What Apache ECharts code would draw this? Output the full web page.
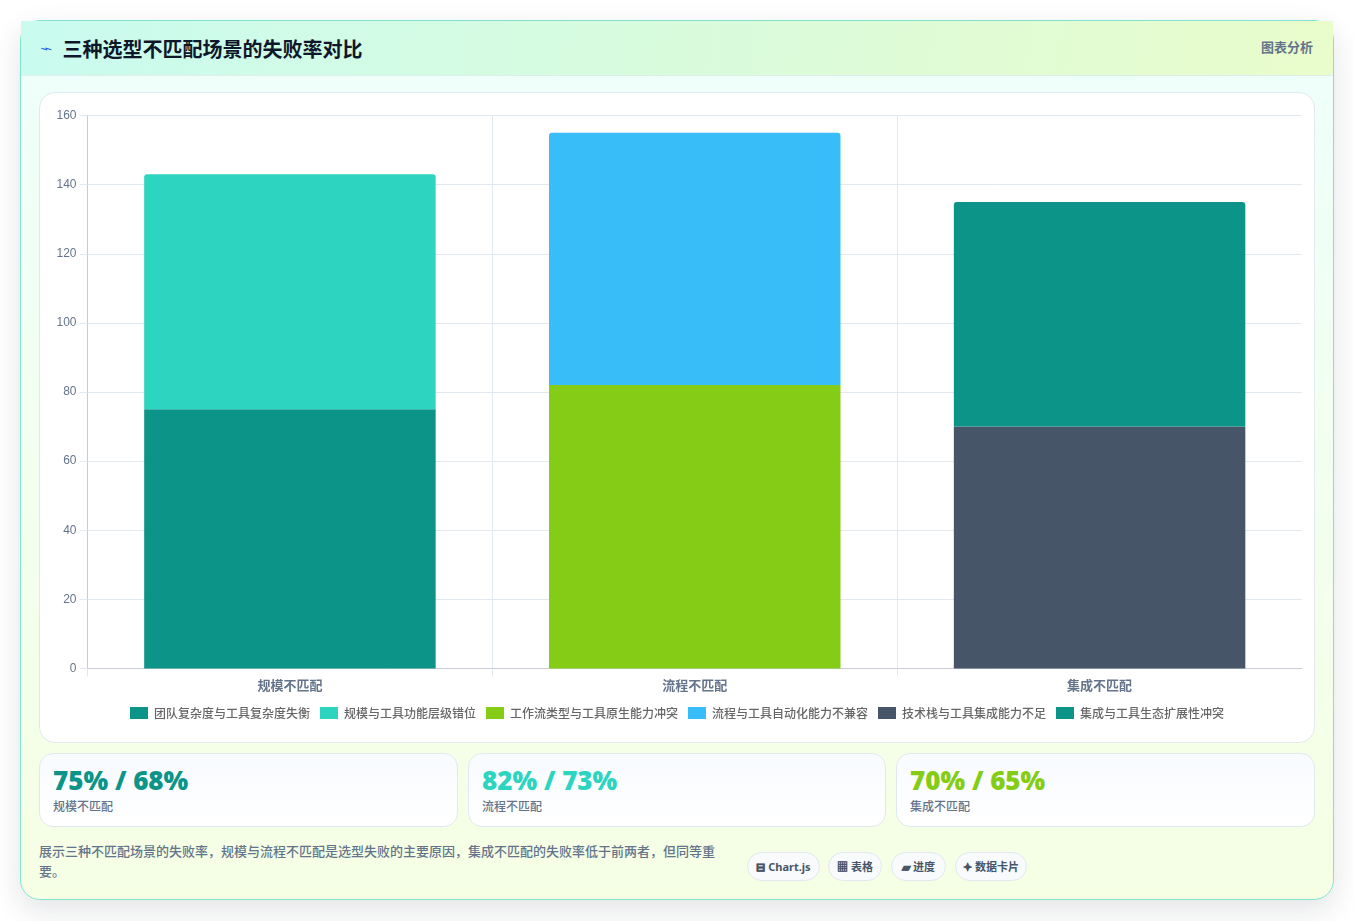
<!DOCTYPE html>
<html lang="zh"><head><meta charset="utf-8">
<script src="https://cdn.jsdelivr.net/npm/echarts@6/dist/echarts.min.js"></script>
<style>
*{box-sizing:border-box}
html,body{margin:0;width:1354px;height:921px;overflow:hidden;background:#fff;font-family:"Noto Sans","Noto Sans CJK SC",sans-serif}
#card{position:absolute;left:20px;top:20px;width:1314px;height:880px;border:1px solid #7fe3d0;border-radius:20px;background:linear-gradient(180deg,#eefffb 0%,#f6ffe4 100%);box-shadow:0 10px 30px rgba(15,23,42,.12);}
#head{position:absolute;left:0;top:0;width:1312px;height:55px;background:linear-gradient(100deg,#c9fbef 0%,#e9fccb 100%);border-bottom:1px solid #dcefe9;}
#icon{position:absolute;left:20px;top:19px;font-size:18px;color:#2563eb;line-height:16px;transform:scale(1.15,.55)}
#title{position:absolute;left:41.5px;top:14px;font-size:20px;line-height:28px;font-weight:700;color:#0f172a;font-family:"Noto Sans CJK SC",sans-serif}
#tag{position:absolute;right:20px;top:17px;font-size:13px;line-height:18px;font-weight:600;color:#64748b;font-family:"Noto Sans CJK SC",sans-serif}
#box{position:absolute;left:18px;top:71px;width:1276px;height:651px;background:#fff;border:1px solid #e2e8f0;border-radius:16px}
#chart{position:absolute;left:0;top:0;width:1274px;height:649px}
.kpi{position:absolute;top:732px;height:74px;border:1px solid #e2e8f0;border-radius:14px;background:linear-gradient(180deg,#f8fbff,#fff)}
.kv{position:absolute;left:13px;top:9px;font:900 26px/34px "Noto Sans","Noto Sans CJK SC",sans-serif;white-space:nowrap}
.kl{position:absolute;left:13px;top:43px;font:500 12px/17px "Noto Sans CJK SC",sans-serif;color:#64748b;white-space:nowrap}
#note{position:absolute;left:18px;top:820px;width:690px;font:500 13px/20px "Noto Sans CJK SC",sans-serif;color:#64748b}
.pill{position:absolute;top:831px;height:29px;text-align:center;border:1px solid #e2e8f0;border-radius:15px;background:#f8fafc;font:700 11px/27px "Noto Sans","Noto Sans CJK SC",sans-serif;color:#475569;white-space:nowrap}
.pill i{font-style:normal;-webkit-text-stroke:.5px #475569}
</style></head><body>
<div id="card">
<div id="head"><div id="icon">⌁</div><div id="title"></div><div id="tag"></div></div>
<div id="box"><div id="chart"></div></div>
<div id="kpis"></div>
<div id="note"></div>
<div id="pills"></div>
</div>
<script>
const pageTitle = "三种选型不匹配场景的失败率对比";
const tagText = "图表分析";
const noteText = "展示三种不匹配场景的失败率，规模与流程不匹配是选型失败的主要原因，集成不匹配的失败率低于前两者，但同等重要。";
const categories = ["规模不匹配","流程不匹配","集成不匹配"];
const seriesNames = ["团队复杂度与工具复杂度失衡","规模与工具功能层级错位","工作流类型与工具原生能力冲突","流程与工具自动化能力不兼容","技术栈与工具集成能力不足","集成与工具生态扩展性冲突"];
const seriesColors = ["#0d9488","#2dd4bf","#84cc16","#38bdf8","#475569","#0d9488"];
const seriesValues = [
  [75,null,null],
  [68,null,null],
  [null,82,null],
  [null,73,null],
  [null,null,70],
  [null,null,65]
];
const kpiValues = ["75% / 68%","82% / 73%","70% / 65%"];
const kpiColors = ["#0d9488","#2dd4bf","#84cc16"];
const pillIcons = ["⊟","▦","▰","✦"];
const pillLabels = ["Chart.js","表格","进度","数据卡片"];
const kpiLefts = [18,447,875];
const kpiWidths = [419,418,419];
const pillLefts = [726,807,870,934];
const pillWidths = [73,54,55,72];
const bandTicks = [0,1,2];

document.getElementById('title').textContent = pageTitle;
document.getElementById('tag').textContent = tagText;
document.getElementById('note').textContent = noteText;
document.getElementById('kpis').innerHTML = categories.map((c,i)=>
 `<div class="kpi" style="left:${kpiLefts[i]}px;width:${kpiWidths[i]}px"><div class="kv" style="color:${kpiColors[i]}">${kpiValues[i]}</div><div class="kl">${c}</div></div>`).join('');
document.getElementById('pills').innerHTML = pillLabels.map((t,i)=>
 `<div class="pill" style="left:${pillLefts[i]}px;width:${pillWidths[i]}px"><i>${pillIcons[i]}</i> ${t}</div>`).join('');

const chart = echarts.init(document.getElementById('chart'),null,{renderer:'canvas'});
chart.setOption({
  animation:false,
  textStyle:{fontFamily:'"Noto Sans CJK SC",sans-serif'},
  grid:{left:47.5,right:12,top:22.5,bottom:73.5,containLabel:false},
  legend:{bottom:18,left:'center',itemWidth:18,itemHeight:12,itemGap:10,icon:'rect',
    textStyle:{fontSize:12,color:'#666',fontWeight:500,padding:[0,0,0,1]},data:seriesNames},
  xAxis:[{type:'category',data:categories,
    axisLine:{lineStyle:{color:'#c9ccd6'}},
    axisTick:{show:false},
    splitLine:{show:true,showMaxLine:false,lineStyle:{color:'#e2e8f0'}},
    axisLabel:{fontSize:13,fontWeight:600,color:'#64748b',margin:10}},
   {type:'value',position:'bottom',min:0,max:3,interval:1,
    axisLine:{show:false},axisLabel:{show:false},splitLine:{show:false},
    axisTick:{show:true,length:8,customValues:bandTicks,lineStyle:{color:'#e2e8f0'}}}],
  yAxis:{type:'value',min:0,max:160,interval:20,
    axisLine:{show:true,lineStyle:{color:'#c9ccd6'}},
    axisTick:{show:true,length:8,lineStyle:{color:'#e2e8f0'}},
    splitLine:{show:true,lineStyle:{color:'#e2e8f0'}},
    axisLabel:{fontSize:12,color:'#64748b',margin:11,fontFamily:'"Liberation Sans",sans-serif'}},
  series:seriesNames.map((n,i)=>({name:n,type:'bar',stack:'total',barWidth:'72%',data:seriesValues[i],
    itemStyle:{color:seriesColors[i],borderRadius:i%2?[3,3,0,0]:0}}))
});
</script></body></html>
